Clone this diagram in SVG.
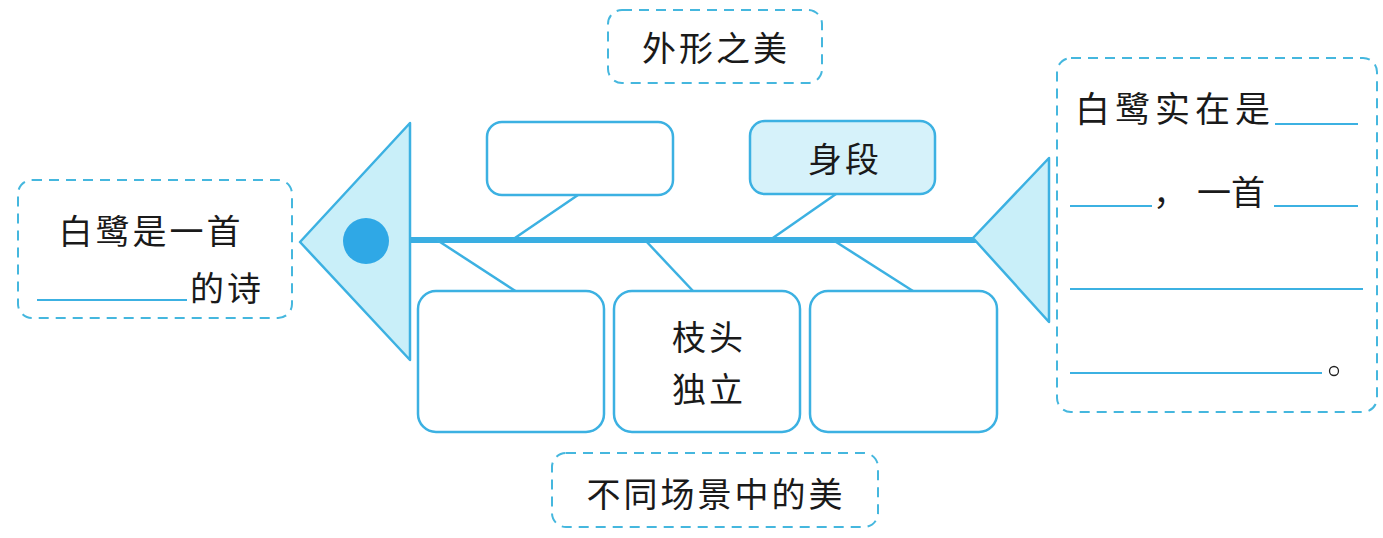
<svg xmlns="http://www.w3.org/2000/svg" width="1383" height="538" viewBox="0 0 1383 538">
<style>
.dash{fill:none;stroke:#45b7de;stroke-width:2;stroke-dasharray:10 7}
.box{fill:#fff;stroke:#3cb1e2;stroke-width:2.5}
.boxf{fill:#d6f2fa;stroke:#3cb1e2;stroke-width:2.5}
.bone{stroke:#3cb1e2;stroke-width:2.5;fill:none}
.ul{stroke:#3cb1e2;stroke-width:2;fill:none}
.t{font-family:"Noto Sans CJK SC","Noto Sans CJK JP",sans-serif;font-size:34px;fill:#1a1a1a;letter-spacing:3px}
</style>
<rect width="1383" height="538" fill="#fff"/>
<g id="connectors">
<line x1="408" y1="240" x2="976" y2="240" stroke="#3aaee2" stroke-width="6"/>
<line class="bone" x1="512" y1="240" x2="578" y2="195"/>
<line class="bone" x1="770" y1="240" x2="836" y2="194"/>
<line class="bone" x1="437" y1="240" x2="517" y2="292"/>
<line class="bone" x1="645" y1="240" x2="693" y2="291"/>
<line class="bone" x1="833" y1="240" x2="913" y2="291"/>
</g>
<g id="head">
<polygon points="300,242 410,123 410,360" fill="#c9eff9" stroke="#3cb1e2" stroke-width="2.5" stroke-linejoin="round"/>
<circle cx="366" cy="241" r="23" fill="#2fa8e6"/>
</g>
<g id="tail">
<polygon points="973,238 1049,158 1049,322" fill="#c9eff9" stroke="#3cb1e2" stroke-width="2.5" stroke-linejoin="round"/>
</g>
<g id="title-top">
<rect class="dash" x="608" y="10" width="214" height="73" rx="14"/>
<text class="t" x="716" y="61" text-anchor="middle">外形之美</text>
</g>
<g id="title-bottom">
<rect class="dash" x="552" y="453" width="326" height="74" rx="14"/>
<text class="t" x="716" y="507" text-anchor="middle">不同场景中的美</text>
</g>
<g id="left-box">
<rect class="dash" x="18" y="180" width="274" height="138" rx="14"/>
<text class="t" x="151" y="244" text-anchor="middle">白鹭是一首</text>
<line class="ul" x1="37" y1="300" x2="187" y2="300"/>
<text class="t" x="190" y="301">的诗</text>
</g>
<g id="right-box">
<rect class="dash" x="1057" y="58" width="320" height="354" rx="14"/>
<text class="t" x="1075" y="122" style="font-size:35px;letter-spacing:5px">白鹭实在是</text>
<line class="ul" x1="1275" y1="124" x2="1358" y2="124"/>
<line class="ul" x1="1070" y1="206" x2="1152" y2="206"/>
<text class="t" x="1153" y="205" style="letter-spacing:0">，</text>
<text class="t" x="1197" y="205" style="letter-spacing:0">一首</text>
<line class="ul" x1="1274" y1="206" x2="1358" y2="206"/>
<line class="ul" x1="1070" y1="289" x2="1363" y2="289"/>
<line class="ul" x1="1070" y1="373" x2="1322" y2="373"/>
<circle cx="1334" cy="371" r="4.5" fill="none" stroke="#222" stroke-width="1.3"/>
</g>
<g id="top-box-1">
<rect class="box" x="487" y="122" width="186" height="73" rx="15"/>
</g>
<g id="top-box-2">
<rect class="boxf" x="750" y="121" width="185" height="73" rx="15"/>
<text class="t" x="845" y="172" text-anchor="middle">身段</text>
</g>
<g id="bottom-box-1">
<rect class="box" x="418" y="291" width="186" height="141" rx="18"/>
</g>
<g id="bottom-box-2">
<rect class="box" x="614" y="291" width="186" height="141" rx="18"/>
<text class="t" x="709" y="350" text-anchor="middle">枝头</text>
<text class="t" x="709" y="402" text-anchor="middle">独立</text>
</g>
<g id="bottom-box-3">
<rect class="box" x="810" y="291" width="187" height="141" rx="18"/>
</g>
</svg>
